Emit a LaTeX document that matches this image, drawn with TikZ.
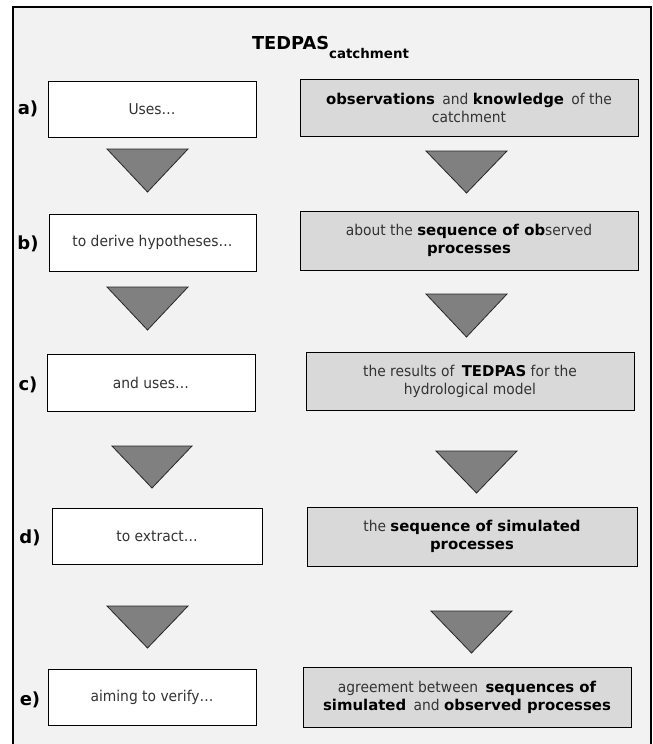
\documentclass[tikz,border=0pt]{standalone}
\usepackage{fontspec}
\setmainfont{DejaVu Sans}[FakeStretch=0.93]
\newfontfamily\widefam{DejaVu Sans}
\newcommand\bw[1]{{\widefam\bfseries\color{black}#1}}
\newcommand\xs{\hspace{3pt}}
\definecolor{bg}{HTML}{F2F2F2}
\definecolor{rfill}{HTML}{D9D9D9}
\definecolor{tfill}{HTML}{808080}
\definecolor{txt}{HTML}{333333}
\begin{document}
\begin{tikzpicture}[x=1pt,y=-1pt,
  every node/.style={inner sep=0pt, outer sep=0pt},
  boxbase/.style={draw=black, line width=1pt, align=center, text=txt, font=\fontsize{14.9}{18}\selectfont},
  lbox/.style={boxbase, fill=white},
  rbox/.style={boxbase, fill=rfill},
  tri/.style={draw=black!85, line width=0.8pt, fill=tfill, line join=miter},
  steplabel/.style={font=\widefam\bfseries\fontsize{18}{18}\selectfont, text=black},
]
\useasboundingbox (0,0) rectangle (653,744);
\fill[white] (0,0) rectangle (653,744);
\draw[line width=1.3pt, fill=bg] (13,7) rectangle (651,747);

% title
\node[anchor=base west, text=black] (title) at (252,49)
  {\widefam\bfseries\fontsize{17.8}{18}\selectfont TEDPAS\raisebox{-9pt}{\fontsize{13.4}{14}\selectfont catchment}};

% row a
\node[steplabel] (al) at (28,109) {a)};
\node[lbox, minimum width=208pt, minimum height=56pt] (la) at (152,109) {Uses…};
\node[rbox, minimum width=338pt, minimum height=57pt] (ra) at (469,107.5)
  {\bw{observations}\xs\ and \bw{knowledge}\xs\ of the\\catchment};

% row b
\node[steplabel] (bl) at (28,244) {b)};
\node[lbox, minimum width=207pt, minimum height=57pt] (lb) at (152.5,242.5) {to derive hypotheses…};
\node[rbox, minimum width=338pt, minimum height=59pt] (rb) at (469,240.5)
  {about the \bw{sequence of ob}served\\\bw{processes}};

% row c
\node[steplabel] (cl) at (28,385) {c)};
\node[lbox, minimum width=208pt, minimum height=57pt] (lc) at (151,382.5) {and uses…};
\node[rbox, minimum width=328pt, minimum height=58pt] (rc) at (470,381)
  {the results of\xs\ \bw{TEDPAS}\ for the\\hydrological model};

% row d
\node[steplabel] (dl) at (30,538) {d)};
\node[lbox, minimum width=210pt, minimum height=56pt] (ld) at (157,536) {to extract…};
\node[rbox, minimum width=330pt, minimum height=59pt] (rd) at (472,536.5)
  {the \bw{sequence of simulated}\\\bw{processes}};

% row e
\node[steplabel] (el) at (30,700) {e)};
\node[lbox, minimum width=208pt, minimum height=56pt] (le) at (152,697) {aiming to verify…};
\node[rbox, minimum width=328pt, minimum height=60pt] (re) at (467,697)
  {agreement between\xs\ \bw{sequences of}\\\bw{simulated}\xs\ and \bw{observed processes}};

% triangles
\draw[tri] (107,149) -- (188,149) -- (147.5,192) -- cycle;
\draw[tri] (426,151) -- (507,151) -- (466.5,193) -- cycle;
\draw[tri] (107,287) -- (188,287) -- (147.5,330) -- cycle;
\draw[tri] (426,294) -- (507,294) -- (466.5,337) -- cycle;
\draw[tri] (112,446) -- (192,446) -- (152,488) -- cycle;
\draw[tri] (436,451) -- (517,451) -- (476.5,493) -- cycle;
\draw[tri] (107,606) -- (188,606) -- (147.5,648) -- cycle;
\draw[tri] (431,611) -- (512,611) -- (471.5,653) -- cycle;
\end{tikzpicture}
\end{document}
